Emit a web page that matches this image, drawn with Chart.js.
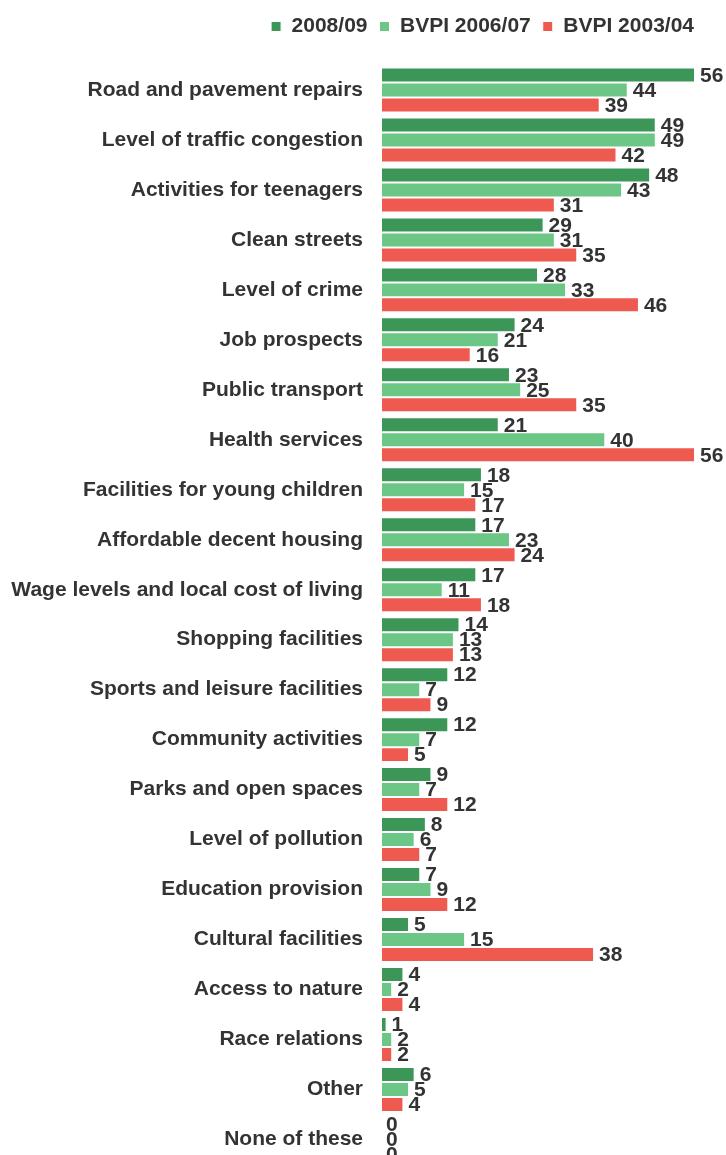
<!DOCTYPE html>
<html>
<head>
<meta charset="utf-8">
<script src="https://cdn.jsdelivr.net/npm/chart.js@4"></script>
<style>
  html, body { margin: 0; padding: 0; background: #fff; overflow: hidden; }
  #wrap { width: 726px; height: 1195px; position: relative; }
</style>
</head>
<body>
<div id="wrap"><canvas id="chart"></canvas></div>
<script>
// categories and values
const categories = [
  "Road and pavement repairs", "Level of traffic congestion", "Activities for teenagers",
  "Clean streets", "Level of crime", "Job prospects", "Public transport", "Health services",
  "Facilities for young children", "Affordable decent housing",
  "Wage levels and local cost of living", "Shopping facilities",
  "Sports and leisure facilities", "Community activities", "Parks and open spaces",
  "Level of pollution", "Education provision", "Cultural facilities", "Access to nature",
  "Race relations", "Other", "None of these"
];
const series2008 = [56, 49, 48, 29, 28, 24, 23, 21, 18, 17, 17, 14, 12, 12, 9, 8, 7, 5, 4, 1, 6, 0];
const series2006 = [44, 49, 43, 31, 33, 21, 25, 40, 15, 23, 11, 13, 7, 7, 7, 6, 9, 15, 2, 2, 5, 0];
const series2003 = [39, 42, 31, 35, 46, 16, 35, 56, 17, 24, 18, 13, 9, 5, 12, 7, 12, 38, 4, 2, 4, 0];
const seriesNames = ["2008/09", "BVPI 2006/07", "BVPI 2003/04"];
const colors = ["#3b9657", "#6cc686", "#ee5a4f"];

const FONT = "'Liberation Sans', Arial, Helvetica, sans-serif";

// draw the value next to each bar
const valueLabels = {
  id: "valueLabels",
  afterDatasetsDraw(chart) {
    const ctx = chart.ctx;
    ctx.save();
    ctx.font = "bold 21px " + FONT;
    ctx.fillStyle = "#333";
    ctx.textBaseline = "middle";
    ctx.textAlign = "left";
    chart.data.datasets.forEach((ds, i) => {
      const meta = chart.getDatasetMeta(i);
      meta.data.forEach((bar, j) => {
        ctx.fillText(String(ds.data[j]), bar.x + 5, bar.y + 1);
      });
    });
    ctx.restore();
  }
};

new Chart(document.getElementById("chart"), {
  type: "bar",
  data: {
    labels: categories,
    datasets: [series2008, series2006, series2003].map((d, i) => ({
      label: seriesNames[i],
      data: d,
      backgroundColor: colors[i],
      borderColor: "#fff",
      borderWidth: 1,
      borderSkipped: false,
      barPercentage: 1.0,
      categoryPercentage: 0.9
    }))
  },
  options: {
    indexAxis: "y",
    responsive: true,
    maintainAspectRatio: false,
    animation: false,
    layout: { padding: { left: 4, right: 20, top: 4, bottom: 0 } },
    plugins: {
      legend: {
        position: "top",
        align: "end",
        labels: {
          boxWidth: 10,
          boxHeight: 10,
          color: "#333",
          padding: 12,
          font: { family: FONT, size: 21, weight: "bold" }
        }
      },
      tooltip: { enabled: false }
    },
    scales: {
      x: {
        position: "top",
        min: 0,
        max: 57.96,
        grid: { display: false, drawTicks: false },
        border: { display: false },
        ticks: { display: false },
        afterFit: (scale) => { scale.height = 18; }
      },
      y: {
        grid: { display: false, drawTicks: false },
        border: { display: false },
        afterFit: (scale) => { scale.width = 377; },
        ticks: {
          color: "#333",
          padding: 18,
          autoSkip: false,
          font: { family: FONT, size: 21, weight: "bold" }
        }
      }
    }
  },
  plugins: [valueLabels]
});
</script>
</body>
</html>
